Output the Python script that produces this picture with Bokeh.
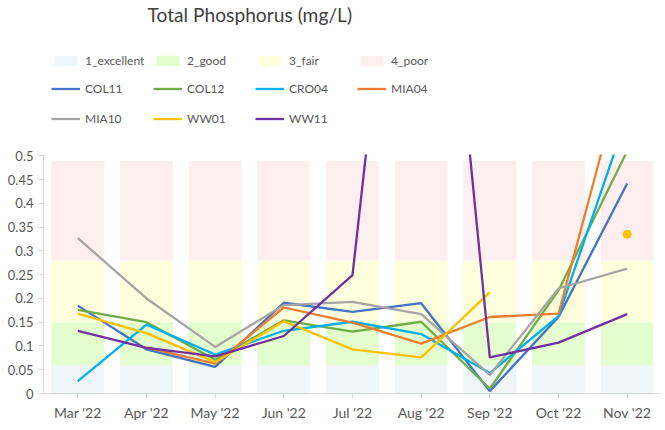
import math
from bokeh.plotting import figure
from bokeh.layouts import column
from bokeh.models import (ColumnDataSource, FactorRange, Range1d, FixedTicker,
                          Legend, LegendItem)
from bokeh.embed import file_html
from bokeh.resources import INLINE

# ---------------- data ----------------
months = ["Mar '22", "Apr '22", "May '22", "Jun '22", "Jul '22",
          "Aug '22", "Sep '22", "Oct '22", "Nov '22"]

band_names = ["1_excellent", "2_good", "3_fair", "4_poor"]
band_bottoms = [0.0, 0.06, 0.15, 0.28]
band_tops = [0.06, 0.15, 0.28, 0.49]
band_colors = ["#EEF6FA", "#E4FDCF", "#FEFFDC", "#FDEFEF"]

NaN = float("nan")
series_names = ["COL11", "COL12", "CRO04", "MIA04", "MIA10", "WW01", "WW11"]
col11 = [0.185, 0.093, 0.056, 0.191, 0.172, 0.190, 0.005, 0.161, 0.442]
col12 = [0.176, 0.150, 0.071, 0.154, 0.130, 0.151, 0.010, 0.217, 0.510]
cro04 = [0.026, 0.145, 0.082, 0.132, 0.151, 0.125, 0.043, 0.163, 0.585]
mia04 = [NaN, 0.097, 0.063, 0.181, 0.149, 0.105, 0.161, 0.168, 0.710]
mia10 = [0.327, 0.200, 0.098, 0.186, 0.193, 0.167, 0.039, 0.221, 0.263]
ww01 = [0.168, 0.127, 0.066, 0.152, 0.093, 0.076, 0.213, NaN, 0.335]
ww11 = [0.132, 0.096, 0.078, 0.121, 0.249, 1.550, 0.076, 0.107, 0.167]
series_values = [col11, col12, cro04, mia04, mia10, ww01, ww11]
series_colors = ["#4472C4", "#70AD47", "#00B0F0", "#ED7D31",
                 "#A5A5A5", "#FFC000", "#7030A0"]

y_ticks = [0, 0.05, 0.1, 0.15, 0.2, 0.25, 0.3, 0.35, 0.4, 0.45, 0.5]
y_tick_labels = ["0", "0.05", "0.1", "0.15", "0.2", "0.25", "0.3",
                 "0.35", "0.4", "0.45", "0.5"]

FONT = "Lato"
TXT = "#595959"
AXIS = "#D9D9D9"
LINE_W = 2.3
FIG_W = 665

# ---------------- header figure: title + legend ----------------
head = figure(width=FIG_W, height=146, x_range=Range1d(0, 1), y_range=Range1d(0, 1),
              x_axis_type=None, y_axis_type=None,
              output_backend="svg", toolbar_location=None,
              min_border_left=43, min_border_right=4, min_border_top=2,
              min_border_bottom=0)
head.grid.visible = False
head.outline_line_color = None
head.title.text = "Total Phosphorus (mg/L)"
head.title.text_font = FONT
head.title.text_font_size = "19.2px"
head.title.text_font_style = "normal"
head.title.text_color = "#404040"
head.title.align = "left"
head.title.offset = 104
head.title.standoff = 0

# legend-only renderers (no visible data)
legend_items = []
for name, c in zip(band_names, band_colors):
    r = head.vbar(x=[NaN], top=[NaN], width=0.5, fill_color=c, line_color=None)
    legend_items.append((name, r))
for name, c in zip(series_names, series_colors):
    r = head.line(x=[NaN], y=[NaN], line_color=c, line_width=LINE_W)
    legend_items.append((name, r))

rows = [legend_items[0:4], legend_items[4:8], legend_items[8:]]
row_bottoms = [78, 50, 20]   # px above the header frame's bottom edge
for row, yb in zip(rows, row_bottoms):
    lg = Legend(items=[LegendItem(label=n, renderers=[r]) for n, r in row],
                orientation="horizontal", location=(8, yb),
                glyph_width=29, glyph_height=13, label_standoff=5,
                label_width=64, label_height=13, spacing=4,
                padding=0, margin=0,
                border_line_color=None, background_fill_alpha=0,
                label_text_font=FONT, label_text_font_size="12px",
                label_text_color=TXT, click_policy="none")
    head.add_layout(lg, "center")

# ---------------- main chart ----------------
p = figure(x_range=FactorRange(*months, range_padding=0),
           y_range=Range1d(0, 0.503),
           width=FIG_W, height=284,
           output_backend="svg", toolbar_location=None,
           min_border_left=43, min_border_right=4, min_border_bottom=37,
           min_border_top=8)
p.outline_line_color = None
p.grid.visible = False

for name, b, t, c in zip(band_names, band_bottoms, band_tops, band_colors):
    src = ColumnDataSource(dict(x=months, bottom=[b] * len(months), top=[t] * len(months)))
    p.vbar(x="x", bottom="bottom", top="top", width=0.77, source=src,
           fill_color=c, line_color=None)

for name, vals, c in zip(series_names, series_values, series_colors):
    src = ColumnDataSource(dict(x=months, y=vals))
    p.line(x="x", y="y", source=src, line_color=c, line_width=LINE_W)
    # isolated points (no neighbour to connect to) shown as markers
    iso_x, iso_y = [], []
    for i, v in enumerate(vals):
        if math.isnan(v):
            continue
        left = vals[i - 1] if i > 0 else NaN
        right = vals[i + 1] if i < len(vals) - 1 else NaN
        if math.isnan(left) and math.isnan(right):
            iso_x.append(months[i])
            iso_y.append(v)
    if iso_x:
        p.scatter(x=iso_x, y=iso_y, size=8, fill_color=c, line_color=c)

for ax in (p.xaxis[0], p.yaxis[0]):
    ax.axis_line_color = AXIS
    ax.major_tick_line_color = AXIS
    ax.minor_tick_line_color = None
    ax.major_tick_in = 0
    ax.major_tick_out = 5
    ax.major_label_text_font = FONT
    ax.major_label_text_color = TXT
    ax.major_label_standoff = 5
p.xaxis[0].major_label_text_font_size = "14px"
p.yaxis[0].major_label_text_font_size = "13px"

p.yaxis[0].ticker = FixedTicker(ticks=y_ticks)
p.yaxis[0].major_label_overrides = {t: l for t, l in zip(y_ticks, y_tick_labels)}

layout = column(head, p, spacing=0)
open("out.html", "w").write(file_html(layout, INLINE))
